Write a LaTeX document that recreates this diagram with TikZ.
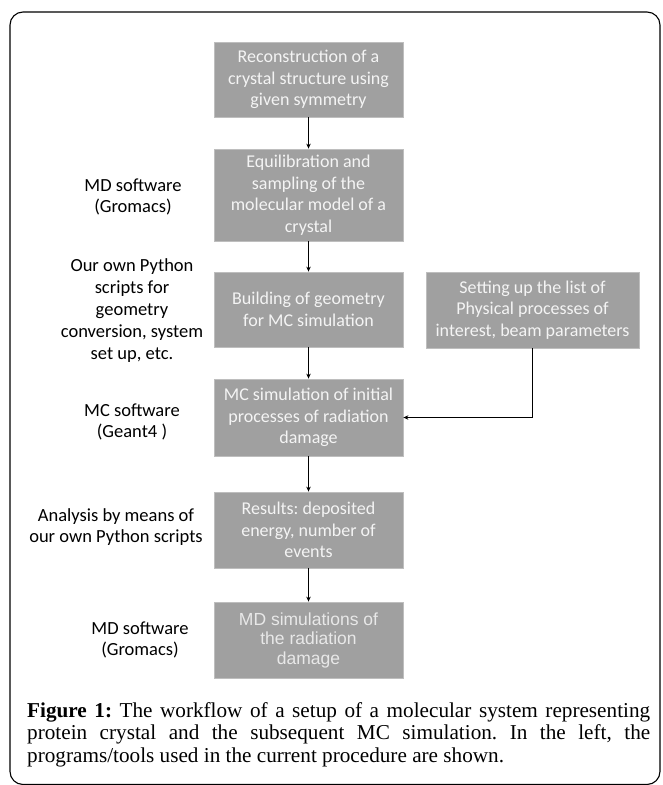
\documentclass[tikz,border=0pt]{standalone}
\usepackage{fontspec}
\setmainfont{Liberation Serif}
\newfontfamily\boxfont{Carlito}
\newfontfamily\arialfont{Liberation Sans}
\usetikzlibrary{arrows.meta}
\definecolor{boxgray}{RGB}{160,160,160}
\definecolor{boxline}{RGB}{190,190,190}
\definecolor{boxtext}{RGB}{244,244,244}
\definecolor{dimtext}{RGB}{232,232,232}
\hyphenpenalty=10000
\exhyphenpenalty=10000
\frenchspacing
\begin{document}
\begin{tikzpicture}[x=1pt,y=-1pt,
	stepbox/.style={draw=boxline,fill=boxgray,text=boxtext,line width=.8pt,minimum width=189pt,
		inner sep=0pt,align=center,font=\boxfont\fontsize{18}{21.5}\selectfont},
	tool/.style={align=center,font=\boxfont\fontsize{18.5}{21}\selectfont},
	link/.style={-{Stealth[length=5pt,width=4.5pt]},line width=1.1pt}]
	\useasboundingbox (0,0) rectangle (662,785);
	\draw[line width=1.1pt,rounded corners=13pt] (10,12) rectangle (660,784.5);
	% main column
	\foreach \n/\y/\h/\txt in {1/79.5/75pt/{Reconstruction of a\\crystal structure using\\given symmetry},
		2/195/92pt/{Equilibration and\\sampling of the\\molecular model of a\\crystal},
		3/309.5/75pt/{Building of geometry\\for MC simulation},
		4/417.5/77pt/{MC simulation of initial\\processes of radiation\\damage},
		5/530/76pt/{Results: deposited\\energy, number of\\events}} {
		\node[stepbox,minimum height=\h] (b\n) at (308.5,\y) {\txt};
	}
	\node[stepbox,minimum height=76pt,text=dimtext,font=\arialfont\fontsize{17.5}{19.5}\selectfont] (b6) at (308.5,640)
		{MD simulations of\\the radiation\\damage};
	\node[stepbox,minimum width=213pt,minimum height=76pt] (setup) at (532.5,310)
		{Setting up the list of\\Physical processes of\\interest, beam parameters};
	\foreach \a/\b in {1/2,2/3,3/4,4/5,5/6} {
		\draw[link] (b\a) -- (b\b);
	}
	\draw[link] (setup.south) |- (b4.east);
	% tools on the left
	\node[tool] (md1) at (133,197) {MD software\\(Gromacs)};
	\node[tool,font=\boxfont\fontsize{18.5}{22}\selectfont] (py) at (132,311) {Our own Python\\scripts for\\geometry\\conversion, system\\set up, etc.};
	\node[tool] (mc) at (132,422) {MC software\\(Geant4 )};
	\node[tool] (ana) at (116,527) {Analysis by means of\\our own Python scripts};
	\node[tool] (md2) at (140,640) {MD software\\(Gromacs)};
	% caption
	\node[anchor=north west,inner sep=0pt,text width=623pt,align=justify,
		font=\fontsize{21.2}{22.5}\selectfont] (cap) at (27,702)
		{\textbf{Figure 1:} The workflow of a setup of a molecular system representing protein crystal and the subsequent MC simulation. In the left, the programs/tools used in the current procedure are shown.};
\end{tikzpicture}
\end{document}
